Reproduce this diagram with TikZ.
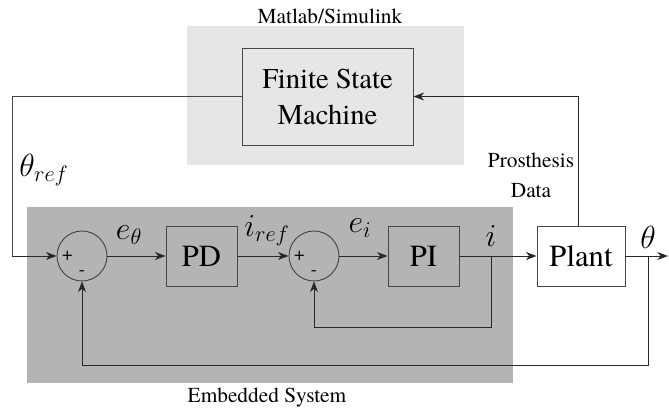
\documentclass[tikz,border=0pt]{standalone}
\usepackage{fix-cm}
\usepackage{fontspec}
\setmainfont{texgyretermes}[Extension=.otf, UprightFont=*-regular, ItalicFont=*-italic, BoldFont=*-bold, BoldItalicFont=*-bolditalic]
\usepackage{tikz}
\usetikzlibrary{arrows.meta, positioning, calc}
\definecolor{mydark}{RGB}{40,40,40}
\definecolor{myline}{RGB}{70,70,70}
\definecolor{bglight}{RGB}{230,230,230}
\definecolor{bgdark}{RGB}{180,180,180}
\tikzset{
  region/.style={rectangle, inner sep=0pt},
  block/.style={rectangle, draw=myline, inner sep=0pt,
    font=\fontsize{23}{27}\selectfont, line width=0.7pt},
  sumjunc/.style={circle, draw=myline, inner sep=0pt,
    minimum size=37.5pt, line width=0.7pt},
  sgn/.style={inner sep=0pt, font=\fontsize{14}{16}\selectfont},
  sig/.style={inner sep=0pt, font=\fontsize{24}{28}\selectfont},
  caption/.style={inner sep=0pt, align=center, font=\fontsize{16}{22.5}\selectfont},
  arrow/.style={-{Stealth[length=8pt, width=6pt, inset=2.5pt]}, line width=0.7pt, color=mydark},
  line/.style={line width=0.7pt, color=myline}
}

\begin{document}
\begin{tikzpicture}[x=0.75pt, y=-0.75pt]
  \useasboundingbox (0,0) rectangle (669,411);

  % Regions
  \node[region, fill=bglight, minimum width=207.75pt, minimum height=104.25pt] (matlab) at (325.5,95.5) {};
  \node[region, fill=bgdark, minimum width=364.5pt, minimum height=132pt] (embedded) at (270,295) {};
  \node[caption] (matlabtxt) at (330,16) {Matlab/Simulink};
  \node[caption] (embtxt) at (267,398) {Embedded System};

  % Top Node
  \node[block, fill=bglight, align=center, minimum width=128.25pt, minimum height=72.75pt,
    font=\fontsize{21.5}{27}\selectfont] (fsm) at (327.5,96.5) {Finite State\\Machine};

  % Loop Nodes
  \node[sumjunc] (sum1) at (82,256) {};
  \node[block, minimum width=53.25pt, minimum height=45pt] (pd) at (201.5,256) {PD};
  \node[sumjunc] (sum2) at (314,256) {};
  \node[block, minimum width=53.25pt, minimum height=45pt] (pi) at (423.5,256) {PI};
  \node[block, fill=white, minimum width=66pt, minimum height=45pt] (plant) at (581,256) {Plant};

  % Signs
  \node[sgn] (sum1p) at ([xshift=-11pt]sum1.center) {+};
  \node[sgn] (sum1m) at ([yshift=-13pt]sum1.center) {-};
  \node[sgn] (sum2p) at ([xshift=-11pt]sum2.center) {+};
  \node[sgn] (sum2m) at ([yshift=-13pt]sum2.center) {-};

  % Branch points
  \coordinate (refleft) at (12,256);
  \coordinate (ibr) at (491,256);
  \coordinate (thbr) at (648,256);
  \coordinate (thend) at (668,256);

  % Paths
  \draw[line] (fsm.west) -| (refleft);
  \draw[arrow] (refleft) -- (sum1.west);
  \draw[arrow] (sum1.east) -- (pd.west);
  \draw[arrow] (pd.east) -- (sum2.west);
  \draw[arrow] (sum2.east) -- (pi.west);
  \draw[arrow] (pi.east) -- (plant.west);
  \draw[arrow] (plant.east) -- (thend);
  \draw[arrow] (ibr) -- (ibr |- 0,327) -| (sum2.south);
  \draw[arrow] (thbr) -- (thbr |- 0,365) -| (sum1.south);
  \draw[arrow] ([xshift=-2.25pt]plant.north) |- (fsm.east);

  % Signal labels
  \node[sig] (thref) at (44,170) {$\theta_{ref}$};
  \node[sig] (eth) at (129,235) {$e_\theta$};
  \node[sig] (iref) at (267,231) {$i_{ref}$};
  \node[sig] (ei) at (360,228) {$e_i$};
  \node[sig] (iout) at (491,236) {$i$};
  \node[sig] (thout) at (648,237) {$\theta$};
  \node[caption] (prosdata) at (531,175) {Prosthesis\\Data};
\end{tikzpicture}
\end{document}
